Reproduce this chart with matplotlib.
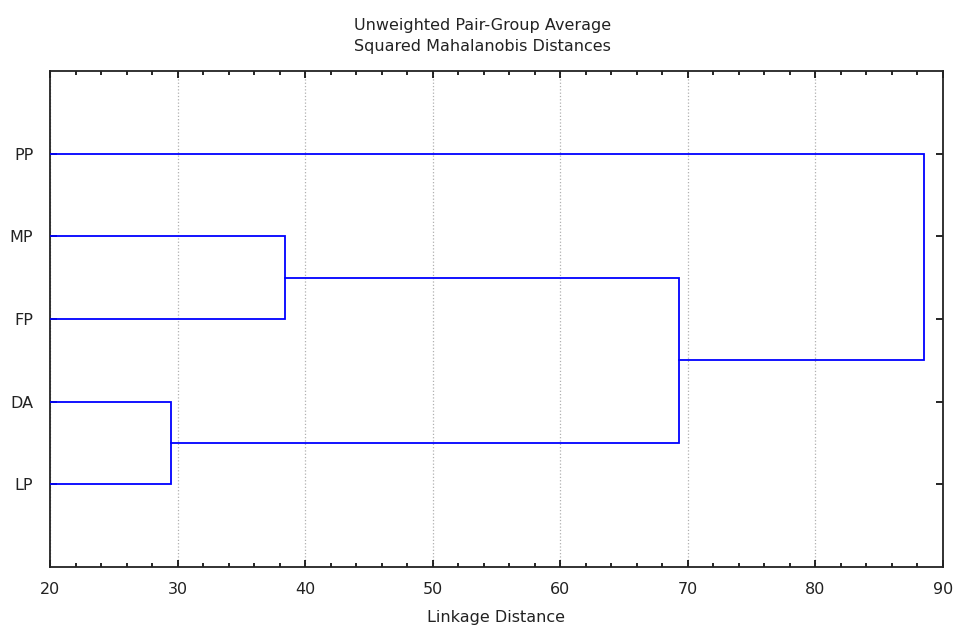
import matplotlib
matplotlib.use("Agg")
import matplotlib.pyplot as plt
from matplotlib.ticker import MultipleLocator

# leaves, top to bottom as in the chart
labels = ["PP", "MP", "FP", "DA", "LP"]
leaf_pos = [5, 4, 3, 2, 1]

# merges: (cluster a, cluster b, linkage distance)
merges = [
    ("DA", "LP", 29.45),
    ("MP", "FP", 38.4),
    ("MP+FP", "DA+LP", 69.3),
    ("PP", "MP+FP+DA+LP", 88.5),
]

plt.rcParams["font.family"] = ["DejaVu Sans"]
fs = 11.5

fig = plt.figure(figsize=(9.56, 6.28), dpi=100)
ax = fig.add_axes([0.0523, 0.0971, 0.934, 0.7899])

# position and height of each cluster, leaves start at distance 0
pos = dict(zip(labels, leaf_pos))
height = {lab: 0.0 for lab in labels}
for a, b, d in merges:
    ya, yb = pos[a], pos[b]
    ax.plot([height[a], d, d, height[b]], [ya, ya, yb, yb],
            color="#0000ff", lw=1.3, solid_joinstyle="miter", zorder=3)
    new = a + "+" + b
    pos[new] = (ya + yb) / 2
    height[new] = d

ax.set_xlim(20, 90)
ax.set_ylim(0, 6)
ax.xaxis.set_major_locator(MultipleLocator(10))
ax.xaxis.set_minor_locator(MultipleLocator(2))
ax.set_yticks(leaf_pos)
ax.set_yticklabels(labels)
ax.tick_params(which="both", direction="in", top=True, right=True,
               labelsize=fs, width=1.2, color="black", labelcolor="#222222")
ax.tick_params(which="major", length=5)
ax.tick_params(which="minor", length=3)
ax.tick_params(axis="x", pad=11)
ax.tick_params(axis="y", pad=12)
ax.grid(axis="x", which="major", color="#b0b0b0", ls=":", lw=0.9)
for s in ax.spines.values():
    s.set_linewidth(1.3)
    s.set_color("#222222")

fig.text(0.505, 0.942, "Unweighted Pair-Group Average\nSquared Mahalanobis Distances",
         ha="center", va="center", fontsize=fs, linespacing=1.5, color="#222222")
ax.set_xlabel("Linkage Distance", fontsize=fs, labelpad=9, color="#222222")

fig.savefig("out.png", dpi=100)
